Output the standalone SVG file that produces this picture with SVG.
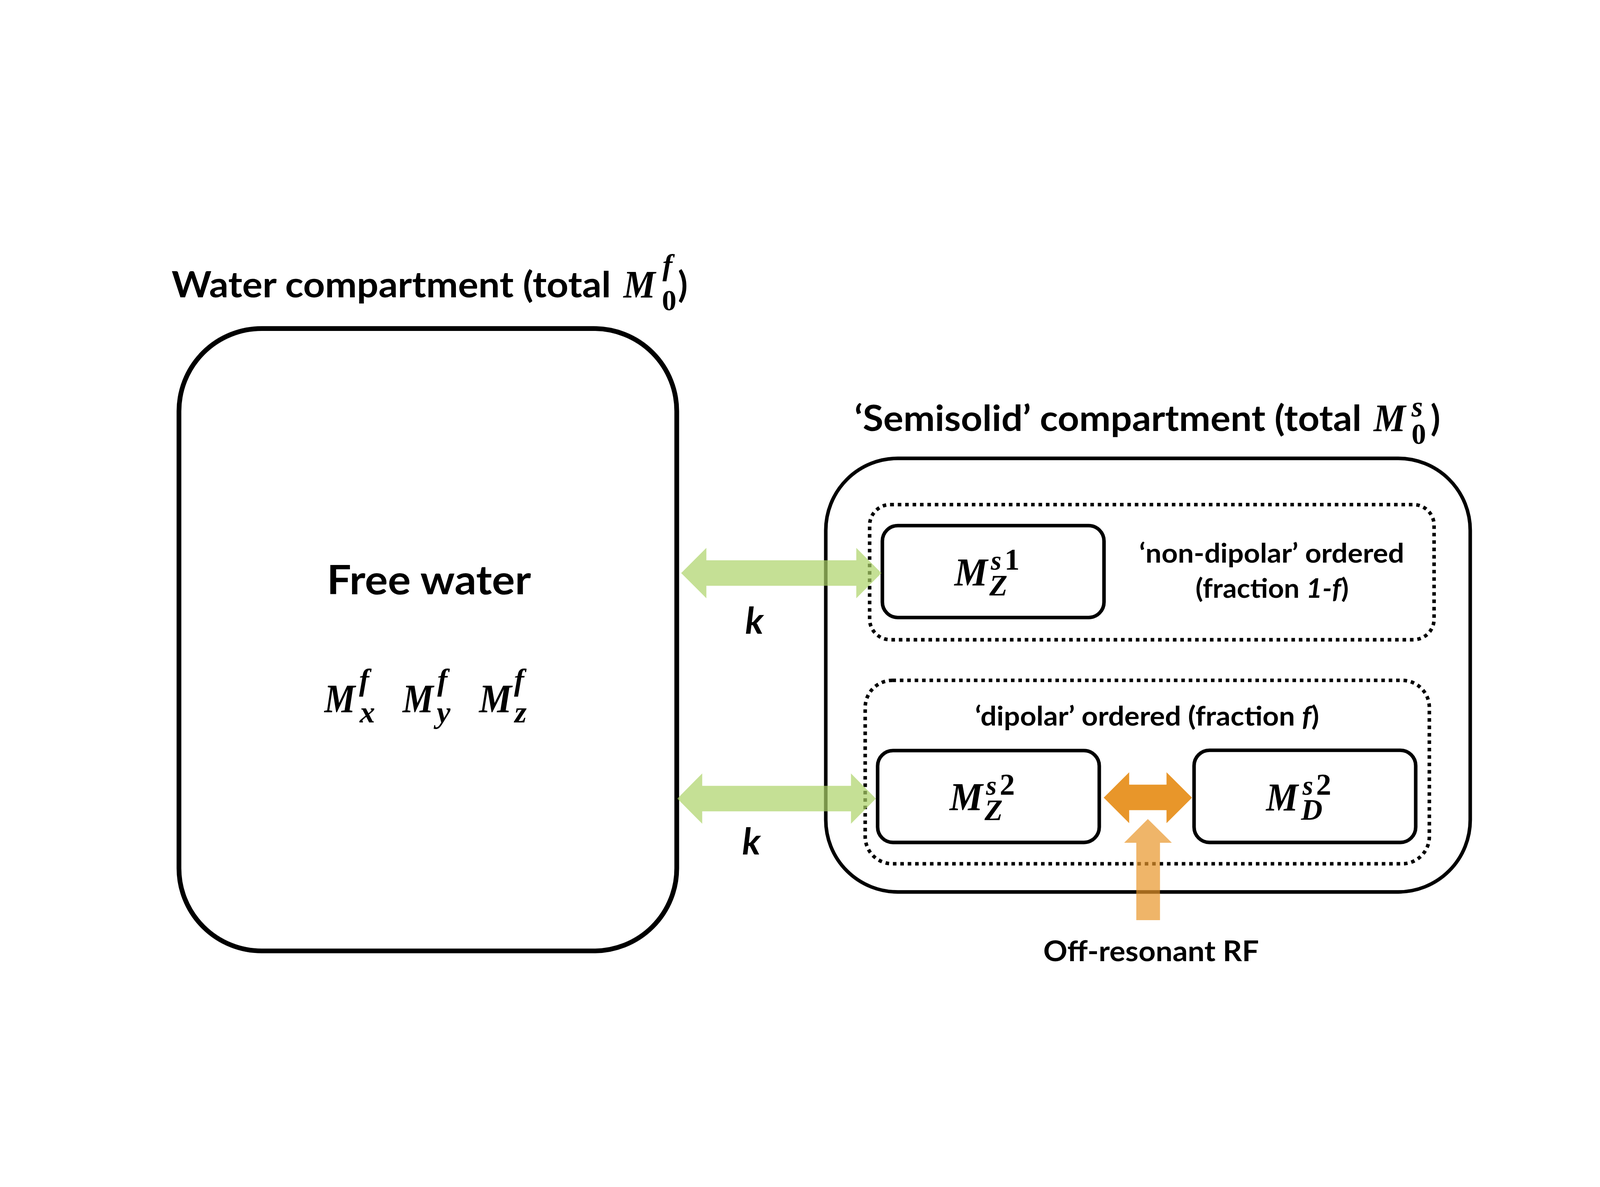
<svg xmlns="http://www.w3.org/2000/svg" width="5400" height="3038" viewBox="0 0 5400 3038" style="width:100%;height:100%">
<style>
.t{font-family:Lato,"Liberation Sans",sans-serif;font-weight:700;fill:#000}
.it{font-style:italic}
.m{font-family:"Liberation Serif","DejaVu Serif",serif;font-weight:700;font-style:italic;fill:#000}
.up{font-style:normal}
.box{fill:#fff;stroke:#000}
.dot{fill:none;stroke:#000;stroke-width:12;stroke-dasharray:12 13}
.green{fill:#ACD368;fill-opacity:0.7}
.orange{fill:#E8962A}
.orange-t{fill:#E8962A;fill-opacity:0.7}
</style>
<rect width="5400" height="3038" fill="#fff"/>

<g id="water-compartment">
  <rect class="box" x="604" y="625" width="1680" height="2100" rx="279" ry="279" stroke-width="16"/>
  <text class="t" x="579" y="520" font-size="120" textLength="1483" lengthAdjust="spacingAndGlyphs">Water compartment (total</text>
  <text class="m"><tspan x="2104" y="520" font-size="132" textLength="108" lengthAdjust="spacingAndGlyphs">M</tspan><tspan x="2236" y="445" font-size="100">f</tspan><tspan class="up" x="2234" y="563" font-size="98">0</tspan></text>
  <text class="t" x="2288" y="520" font-size="120">)</text>
  <text class="t" x="1103" y="1521" font-size="136" textLength="689" lengthAdjust="spacingAndGlyphs">Free water</text>
  <text class="m"><tspan x="1095" y="1920" font-size="136" textLength="104" lengthAdjust="spacingAndGlyphs">M</tspan><tspan x="1212" y="1845" font-size="102">f</tspan><tspan x="1214" y="1954" font-size="104">x</tspan></text>
  <text class="m"><tspan x="1359" y="1920" font-size="136" textLength="104" lengthAdjust="spacingAndGlyphs">M</tspan><tspan x="1476" y="1845" font-size="102">f</tspan><tspan x="1474" y="1954" font-size="104">y</tspan></text>
  <text class="m"><tspan x="1617" y="1920" font-size="136" textLength="110" lengthAdjust="spacingAndGlyphs">M</tspan><tspan x="1735" y="1845" font-size="102">f</tspan><tspan x="1737" y="1954" font-size="104">z</tspan></text>
</g>

<g id="semisolid-compartment">
  <rect class="box" x="2787" y="1063" width="2175" height="1463" rx="243" ry="243" stroke-width="12"/>
  <text class="t" x="2884" y="971" font-size="120" textLength="1711" lengthAdjust="spacingAndGlyphs">‘Semisolid’ compartment (total</text>
  <text class="m"><tspan x="4636" y="971" font-size="132" textLength="108" lengthAdjust="spacingAndGlyphs">M</tspan><tspan x="4764" y="922" font-size="98">s</tspan><tspan class="up" x="4764" y="1014" font-size="98">0</tspan></text>
  <text class="t" x="4828" y="971" font-size="120">)</text>
</g>

<g id="nondipolar-pool">
  <rect class="dot" x="2935" y="1219" width="1905" height="456" rx="70" ry="70"/>
  <text class="t" x="3845" y="1415" font-size="92" textLength="894" lengthAdjust="spacingAndGlyphs">‘non-dipolar’ ordered</text>
  <text class="t" x="4035" y="1533" font-size="92" textLength="517" lengthAdjust="spacingAndGlyphs">(fraction <tspan class="it">1-f</tspan>)</text>
</g>

<g id="mz-s1">
  <rect class="box" x="2978" y="1290" width="748" height="310" rx="52" ry="52" stroke-width="12"/>
  <text class="m"><tspan x="3221" y="1492" font-size="134" textLength="112" lengthAdjust="spacingAndGlyphs">M</tspan><tspan x="3344" y="1439" font-size="92">s</tspan><tspan class="up" x="3390" y="1439" font-size="102">1</tspan><tspan x="3339" y="1525" font-size="100">Z</tspan></text>
</g>

<g id="dipolar-pool">
  <rect class="dot" x="2920" y="1812" width="1904" height="619" rx="92" ry="92"/>
  <text class="t" x="3291" y="1965" font-size="92" textLength="1161" lengthAdjust="spacingAndGlyphs">‘dipolar’ ordered (fraction <tspan class="it">f</tspan>)</text>
</g>

<g id="mz-s2">
  <rect class="box" x="2962" y="2049" width="748" height="310" rx="52" ry="52" stroke-width="12"/>
  <text class="m"><tspan x="3205" y="2251" font-size="134" textLength="112" lengthAdjust="spacingAndGlyphs">M</tspan><tspan x="3328" y="2198" font-size="92">s</tspan><tspan class="up" x="3374" y="2198" font-size="102">2</tspan><tspan x="3323" y="2284" font-size="100">Z</tspan></text>
</g>

<g id="md-s2">
  <rect class="box" x="4030" y="2048" width="748" height="311" rx="52" ry="52" stroke-width="12"/>
  <text class="m"><tspan x="4273" y="2252" font-size="134" textLength="108" lengthAdjust="spacingAndGlyphs">M</tspan><tspan x="4396" y="2198" font-size="92">s</tspan><tspan class="up" x="4442" y="2198" font-size="102">2</tspan><tspan x="4391" y="2283" font-size="100">D</tspan></text>
</g>

<g id="connectors">
  <polygon class="green" points="2299,1450 2384,1365 2384,1407 2890,1407 2890,1365 2975,1450 2890,1535 2890,1493 2384,1493 2384,1535"/>
  <polygon class="green" points="2286,2211 2370,2126 2370,2168 2872,2168 2872,2126 2956,2211 2872,2296 2872,2254 2370,2254 2370,2296"/>
  <polygon class="orange" points="3725,2208 3811,2122 3811,2164 3937,2164 3937,2122 4023,2208 3937,2294 3937,2250 3811,2250 3811,2294"/>
  <polygon class="orange-t" points="3874,2280 3955,2360 3915,2360 3915,2621 3835,2621 3835,2360 3794,2360"/>
  <text class="t it" x="2546" y="1655" font-size="124" text-anchor="middle">k</text>
  <text class="t it" x="2536" y="2400" font-size="124" text-anchor="middle">k</text>
  <text class="t" x="3521" y="2760" font-size="95" textLength="728" lengthAdjust="spacingAndGlyphs">Off-resonant RF</text>
</g>
</svg>
